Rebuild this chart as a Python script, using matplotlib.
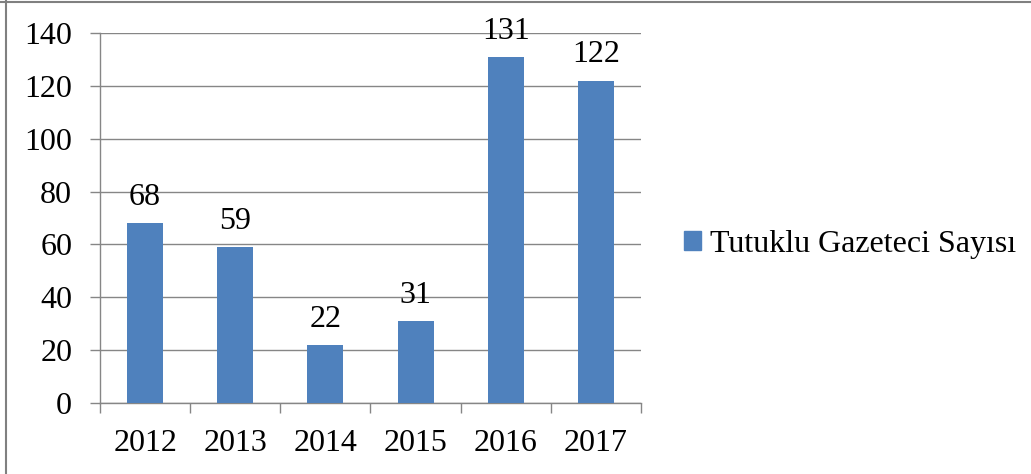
import matplotlib.pyplot as plt
from matplotlib.lines import Line2D
from matplotlib.patches import Patch

years = ['2012', '2013', '2014', '2015', '2016', '2017']
counts = [68, 59, 22, 31, 131, 122]
series_name = 'Tutuklu Gazeteci Sayısı'

plt.rcParams['font.family'] = ['Liberation Serif', 'DejaVu Serif']
fs = 23
grid_col = '#868686'
bar_col = '#4F81BD'

fig = plt.figure(figsize=(10.31, 4.74), dpi=100)
ax = fig.add_axes([100 / 1031, 1 - 403 / 474, 541 / 1031, 370 / 474])

x = list(range(len(years)))
bars = ax.bar(x, counts, width=0.4, color=bar_col, zorder=3)
ax.bar_label(bars, padding=8, fontsize=fs)

ax.set_xlim(-0.5, len(years) - 0.5)
ax.set_ylim(0, 140)
ax.set_yticks(range(0, 141, 20))
ax.yaxis.grid(True, color=grid_col, linewidth=1.0, zorder=0)

# category boundaries as major ticks, labels on minor ticks
ax.set_xticks([i - 0.5 for i in range(len(years) + 1)])
ax.set_xticklabels([])
ax.set_xticks(x, minor=True)
ax.set_xticklabels(years, minor=True)
ax.tick_params(axis='x', which='major', length=7, width=1.0, color=grid_col)
ax.tick_params(axis='x', which='minor', length=0, pad=19, labelsize=fs)
ax.tick_params(axis='y', length=7, width=1.0, color=grid_col, pad=13, labelsize=fs)

for s in ['top', 'right']:
    ax.spines[s].set_visible(False)
for s in ['left', 'bottom']:
    ax.spines[s].set_color(grid_col)
    ax.spines[s].set_linewidth(1.0)

handle = Patch(color=bar_col)
fig.legend([handle], [series_name], loc='center left',
           bbox_to_anchor=(684 / 1031, 0.485), frameon=False, fontsize=fs,
           borderpad=0, borderaxespad=0, handlelength=0.52, handleheight=0.52,
           handletextpad=0.3)

# outer frame lines (top and left only visible)
fig.add_artist(Line2D([0, 1], [1 - 1.5 / 474] * 2, color='#808080', linewidth=1.5))
fig.add_artist(Line2D([6 / 1031] * 2, [0, 1], color='#808080', linewidth=1.5))

fig.savefig('out.png', dpi=100)
